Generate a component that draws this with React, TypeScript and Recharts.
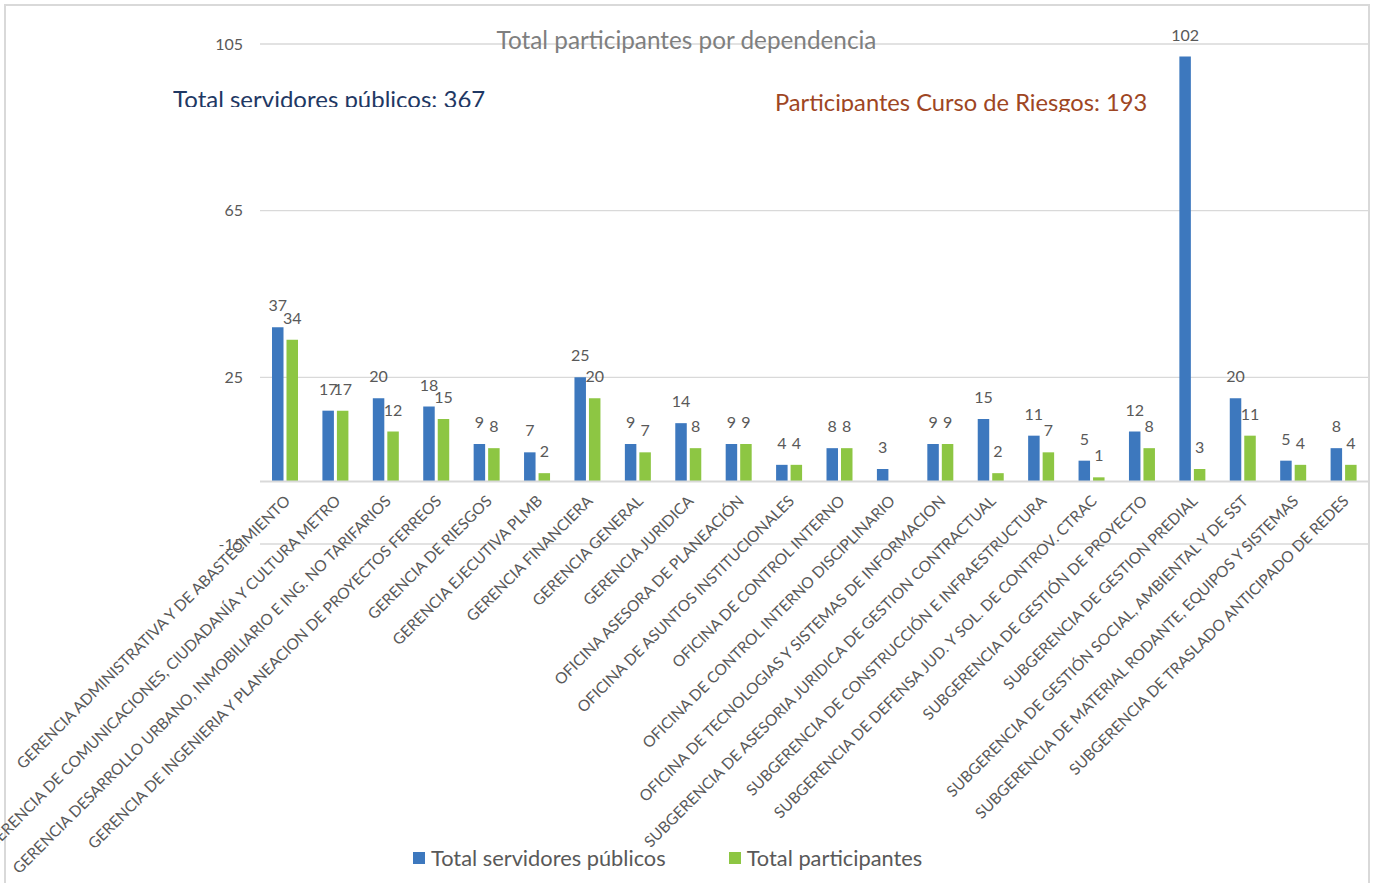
import React from 'react';
import { BarChart, Bar, XAxis, YAxis, CartesianGrid, ReferenceLine, LabelList, Legend } from 'recharts';

const categories = [
  'GERENCIA ADMINISTRATIVA Y DE ABASTECIMIENTO',
  'GERENCIA DE COMUNICACIONES, CIUDADANÍA Y CULTURA METRO',
  'GERENCIA DESARROLLO URBANO, INMOBILIARIO E ING. NO TARIFARIOS',
  'GERENCIA DE INGENIERIA Y PLANEACION DE PROYECTOS FERREOS',
  'GERENCIA DE RIESGOS',
  'GERENCIA EJECUTIVA PLMB',
  'GERENCIA FINANCIERA',
  'GERENCIA GENERAL',
  'GERENCIA JURIDICA',
  'OFICINA ASESORA DE PLANEACIÓN',
  'OFICINA DE ASUNTOS INSTITUCIONALES',
  'OFICINA DE CONTROL INTERNO',
  'OFICINA DE CONTROL INTERNO DISCIPLINARIO',
  'OFICINA DE TECNOLOGIAS Y SISTEMAS DE INFORMACION',
  'SUBGERENCIA DE ASESORIA JURIDICA DE GESTION CONTRACTUAL',
  'SUBGERENCIA DE CONSTRUCCIÓN E INFRAESTRUCTURA',
  'SUBGERENCIA DE DEFENSA JUD. Y SOL. DE CONTROV. CTRAC',
  'SUBGERENCIA DE GESTIÓN DE PROYECTO',
  'SUBGERENCIA DE GESTION PREDIAL',
  'SUBGERENCIA DE GESTIÓN SOCIAL, AMBIENTAL Y DE SST',
  'SUBGERENCIA DE MATERIAL RODANTE, EQUIPOS Y SISTEMAS',
  'SUBGERENCIA DE TRASLADO ANTICIPADO DE REDES',
];

const servidores = [37, 17, 20, 18, 9, 7, 25, 9, 14, 9, 4, 8, 3, 9, 15, 11, 5, 12, 102, 20, 5, 8];
const participantes = [34, 17, 12, 15, 8, 2, 20, 7, 8, 9, 4, 8, 0, 9, 2, 7, 1, 8, 3, 11, 4, 4];

const yTicks = [-15, 25, 65, 105];

const seriesKeys = ['servidores', 'participantes'];
const seriesNames = {
  servidores: 'Total servidores públicos',
  participantes: 'Total participantes',
};

const chartTitle = 'Total participantes por dependencia';
const noteServidores = 'Total servidores públicos: 367';
const noteParticipantes = 'Participantes Curso de Riesgos: 193';

const data = categories.map((name, i) => ({
  name,
  servidores: servidores[i],
  participantes: participantes[i],
}));

const BLUE = '#3D78BE';
const GREEN = '#8DC643';
const TEXT = '#595959';
const GRID = '#d9d9d9';
const FONT = 'Lato, "Open Sans", sans-serif';

const CategoryTick = (props: any) => {
  const { x, y, payload } = props;
  const tx = x + 6;
  const ty = y - 63 + 21;
  return (
    <text
      x={tx}
      y={ty}
      transform={`rotate(-45, ${tx}, ${ty})`}
      textAnchor="end"
      fill={TEXT}
      fontSize={15.5}
      fontFamily={FONT}
    >
      {payload.value}
    </text>
  );
};

const LegendContent = (props: any) => {
  const payload = [...(props.payload || [])].sort(
    (a: any, b: any) => seriesKeys.indexOf(a.dataKey) - seriesKeys.indexOf(b.dataKey)
  );
  return (
    <div style={{ display: 'flex', justifyContent: 'flex-start', paddingLeft: 413 }}>
      {payload.map((entry: any, i: number) => (
        <div
          key={i}
          style={{ display: 'flex', alignItems: 'center', marginRight: i === 0 ? 63 : 0 }}
        >
          <span
            style={{ display: 'inline-block', width: 12, height: 12, background: entry.color, marginRight: 6 }}
          />
          <span style={{ color: TEXT, fontSize: 21.8, lineHeight: '26px', fontFamily: FONT }}>{entry.value}</span>
        </div>
      ))}
    </div>
  );
};

export default function App() {
  return (
    <div
      style={{
        position: 'absolute',
        left: 0,
        top: 0,
        width: 1373,
        height: 883,
        overflow: 'hidden',
        background: '#ffffff',
        fontFamily: FONT,
      }}
    >
      <div
        style={{
          position: 'absolute',
          left: 4,
          top: 4,
          width: 1366,
          height: 920,
          border: `2px solid ${GRID}`,
          boxSizing: 'border-box',
        }}
      />
      <div style={{ position: 'absolute', left: 0, top: 0 }}>
        <BarChart
          width={1373}
          height={883}
          data={data}
          margin={{ top: 44, right: 4, bottom: 0, left: 0 }}
          barGap={3}
          barSize={11.5}
        >
          <CartesianGrid vertical={false} stroke={GRID} strokeWidth={1.3} />
          <YAxis
            width={260}
            domain={[-15, 105]}
            ticks={yTicks}
            allowDataOverflow
            axisLine={false}
            tickLine={false}
            tickMargin={11}
            tick={{ fill: TEXT, fontSize: 16, fontFamily: FONT }}
          />
          <XAxis
            dataKey="name"
            interval={0}
            height={339}
            axisLine={false}
            tickLine={false}
            tickSize={0}
            tickMargin={0}
            tick={<CategoryTick />}
          />
          <ReferenceLine y={0} stroke={GRID} strokeWidth={2} />
          <Legend
            verticalAlign="middle"
            align="center"
            layout="horizontal"
            wrapperStyle={{ top: 845, left: 0, width: 1373 }}
            content={<LegendContent />}
          />
          <Bar dataKey="servidores" name={seriesNames.servidores} fill={BLUE} isAnimationActive={false}>
            <LabelList dataKey="servidores" position="top" offset={16} fill={TEXT} fontSize={16} fontFamily={FONT} />
          </Bar>
          <Bar dataKey="participantes" name={seriesNames.participantes} fill={GREEN} isAnimationActive={false}>
            <LabelList dataKey="participantes" position="top" offset={16} fill={TEXT} fontSize={16} fontFamily={FONT} />
          </Bar>
        </BarChart>
      </div>
      <div
        style={{
          position: 'absolute',
          left: 0,
          top: 25,
          width: 1373,
          textAlign: 'center',
          fontSize: 24.3,
          lineHeight: '29px',
          color: '#7f7f7f',
          fontFamily: FONT,
        }}
      >
        {chartTitle}
      </div>
      <div
        style={{
          position: 'absolute',
          left: 173,
          top: 84.6,
          height: 22.6,
          overflow: 'hidden',
          fontSize: 24,
          lineHeight: '28.8px',
          color: '#1F3864',
          whiteSpace: 'nowrap',
          fontFamily: FONT,
        }}
      >
        {noteServidores}
      </div>
      <div
        style={{
          position: 'absolute',
          left: 775,
          top: 87.6,
          height: 24,
          overflow: 'hidden',
          fontSize: 23.7,
          lineHeight: '28.4px',
          color: '#9E4623',
          whiteSpace: 'nowrap',
          fontFamily: FONT,
        }}
      >
        {noteParticipantes}
      </div>
    </div>
  );
}
